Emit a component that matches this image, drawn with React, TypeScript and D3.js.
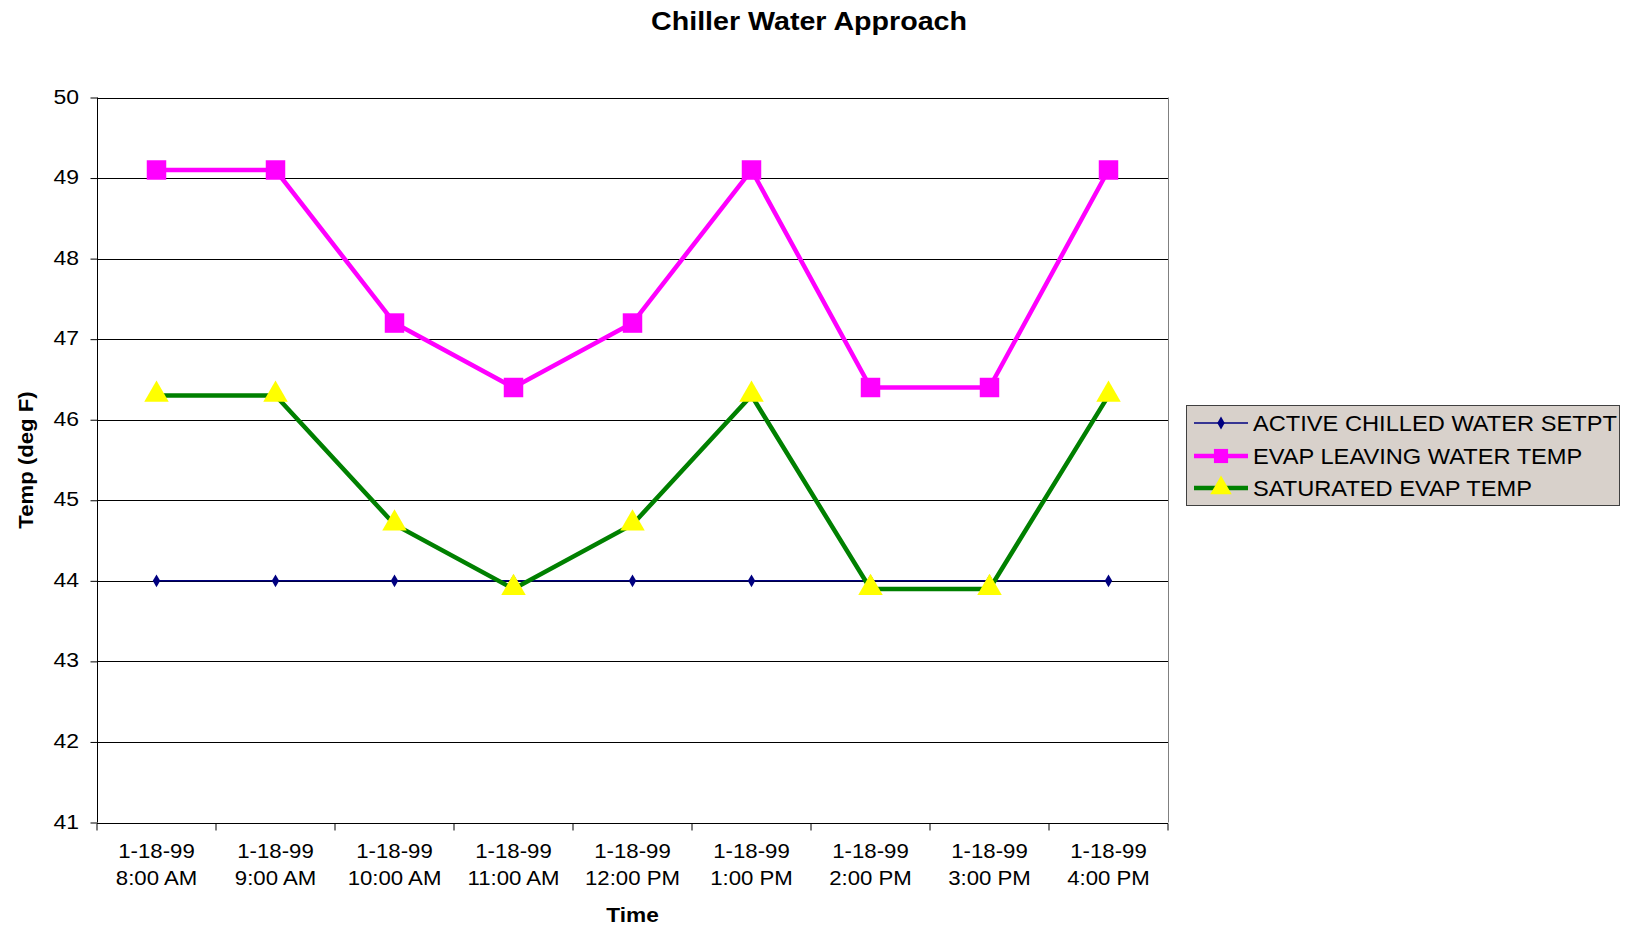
import React, { useEffect, useRef } from "react";
import * as d3 from "d3";

const categories = [
  ["1-18-99", "8:00 AM"],
  ["1-18-99", "9:00 AM"],
  ["1-18-99", "10:00 AM"],
  ["1-18-99", "11:00 AM"],
  ["1-18-99", "12:00 PM"],
  ["1-18-99", "1:00 PM"],
  ["1-18-99", "2:00 PM"],
  ["1-18-99", "3:00 PM"],
  ["1-18-99", "4:00 PM"],
];
const setpoint = [44, 44, 44, 44, 44, 44, 44, 44, 44];
const evapLeaving = [49.1, 49.1, 47.2, 46.4, 47.2, 49.1, 46.4, 46.4, 49.1];
const saturatedEvap = [46.3, 46.3, 44.7, 43.9, 44.7, 46.3, 43.9, 43.9, 46.3];
const yTicks = [41, 42, 43, 44, 45, 46, 47, 48, 49, 50];
const seriesNames = ["ACTIVE CHILLED WATER SETPT", "EVAP LEAVING WATER TEMP", "SATURATED EVAP TEMP"];

const W = 1625, H = 930;
const M = { left: 97, right: 1168, top: 97.5, bottom: 822.5 };
const FONT = "'Liberation Sans', Arial, sans-serif";

export default function App() {
  const ref = useRef<SVGSVGElement>(null);
  useEffect(() => {
    const svg = d3.select(ref.current);
    svg.selectAll("*").remove();
    const idx = categories.map((_, i) => i);
    const x = d3.scaleBand<number>().domain(idx).range([M.left, M.right]);
    const y = d3.scaleLinear().domain([41, 50]).range([M.bottom, M.top]);
    const cx = (i: number) => (x(i) as number) + x.bandwidth() / 2;

    const txt = (g: any, tx: number, ty: number, s: string, size: number, sx: number, anchor: string, bold = false, rot = 0) =>
      g.append("text")
        .attr("transform", `translate(${tx},${ty})${rot ? ` rotate(${rot})` : ""} scale(${sx},1)`)
        .attr("text-anchor", anchor).attr("font-family", FONT).attr("font-size", size)
        .attr("font-weight", bold ? "bold" : "normal").attr("fill", "#000").text(s);

    svg.append("rect").attr("width", W).attr("height", H).attr("fill", "#fff");

    // gridlines
    svg.append("g").selectAll("line").data(yTicks.filter(t => t > 41)).join("line")
      .attr("x1", M.left).attr("x2", M.right)
      .attr("y1", d => Math.round(y(d)) + 0.5).attr("y2", d => Math.round(y(d)) + 0.5)
      .attr("stroke", "#000").attr("stroke-width", 1);
    // right border
    svg.append("line").attr("x1", M.right + 0.5).attr("x2", M.right + 0.5)
      .attr("y1", M.top).attr("y2", M.bottom).attr("stroke", "#808080");

    // y axis
    const yAxis = svg.append("g").attr("transform", `translate(${M.left + 0.5},0)`)
      .call(d3.axisLeft(y).tickValues(yTicks).tickSize(7).tickFormat(() => ""));
    yAxis.select(".domain").attr("stroke", "#000").attr("d", `M0,${M.top}V${M.bottom}`);
    yAxis.selectAll(".tick line").attr("stroke", "#000");
    yTicks.forEach(t => txt(svg, 79, Math.round(y(t)) + 6, String(t), 20.5, 1.12, "end"));

    // x axis
    const xg = svg.append("g").attr("transform", `translate(0,${Math.round(M.bottom) + 0.5})`);
    xg.append("line").attr("x1", M.left).attr("x2", M.right).attr("stroke", "#000");
    const bounds = idx.map(i => x(i) as number).concat([M.right]);
    xg.selectAll("line.tk").data(bounds).join("line").attr("class", "tk")
      .attr("x1", d => d).attr("x2", d => d).attr("y1", 0).attr("y2", 7).attr("stroke", "#000");
    idx.forEach(i => {
      txt(xg, cx(i), 34.5, categories[i][0], 20, 1.11, "middle");
      txt(xg, cx(i), 61.5, categories[i][1], 20, 1.11, "middle");
    });

    // titles
    txt(svg, 809, 30, "Chiller Water Approach", 26.5, 1.08, "middle", true);
    txt(svg, (M.left + M.right) / 2, 922, "Time", 21, 1.08, "middle", true);
    txt(svg, 33, (M.top + M.bottom) / 2, "Temp (deg F)", 20.5, 1.08, "middle", true, -90);

    const line = d3.line<number>().x((_, i) => cx(i)).y(d => y(d));
    const tri = d3.symbol().type(d3.symbolTriangle).size(260);
    const sq = d3.symbol().type(d3.symbolSquare).size(380);
    const dia = d3.symbol().type(d3.symbolDiamond).size(48);

    // setpoint
    svg.append("path").attr("d", line(setpoint)).attr("fill", "none").attr("stroke", "#000080").attr("stroke-width", 1.5);
    svg.append("g").selectAll("path").data(setpoint).join("path")
      .attr("transform", (d, i) => `translate(${cx(i)},${y(d)})`).attr("d", dia() as string).attr("fill", "#000080");

    // evap leaving
    svg.append("path").attr("d", line(evapLeaving)).attr("fill", "none").attr("stroke", "#FF00FF").attr("stroke-width", 4.5);
    svg.append("g").selectAll("path").data(evapLeaving).join("path")
      .attr("transform", (d, i) => `translate(${cx(i)},${y(d)})`).attr("d", sq() as string).attr("fill", "#FF00FF");

    // saturated
    svg.append("path").attr("d", line(saturatedEvap)).attr("fill", "none").attr("stroke", "#008000").attr("stroke-width", 4.5);
    svg.append("g").selectAll("path").data(saturatedEvap).join("path")
      .attr("transform", (d, i) => `translate(${cx(i)},${y(d) - 1})`).attr("d", tri() as string).attr("fill", "#FFFF00");

    // legend
    const lg = svg.append("g");
    lg.append("rect").attr("x", 1186.5).attr("y", 405.5).attr("width", 433).attr("height", 100)
      .attr("fill", "#d8d1cb").attr("stroke", "#404040").attr("stroke-width", 1);
    const rows = [423, 456, 488];
    const styles = [
      { c: "#000080", w: 1.5, m: dia, f: "#000080" },
      { c: "#FF00FF", w: 4.5, m: d3.symbol().type(d3.symbolSquare).size(200), f: "#FF00FF" },
      { c: "#008000", w: 4.5, m: d3.symbol().type(d3.symbolTriangle).size(200), f: "#FFFF00" },
    ];
    rows.forEach((ry, k) => {
      const s = styles[k];
      lg.append("line").attr("x1", 1194).attr("x2", 1248).attr("y1", ry).attr("y2", ry)
        .attr("stroke", s.c).attr("stroke-width", s.w);
      lg.append("path").attr("transform", `translate(1221,${ry})`).attr("d", s.m() as string).attr("fill", s.f);
      txt(lg, 1253, ry + 8, seriesNames[k], 21.5, 1.1, "start");
    });
  }, []);
  return (
    <svg ref={ref} width={W} height={H} style={{ position: "absolute", left: 0, top: 0 }} />
  );
}
